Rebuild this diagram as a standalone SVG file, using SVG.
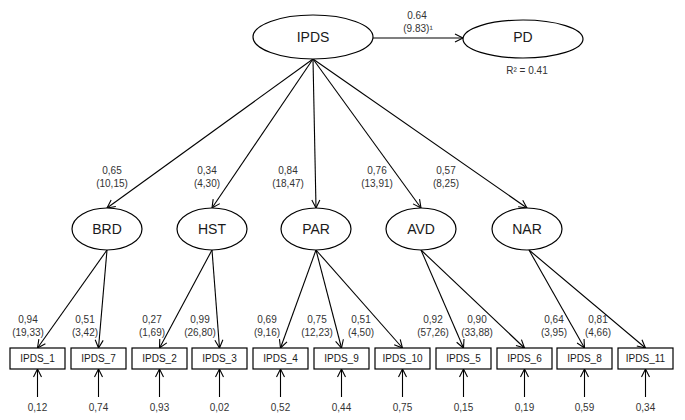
<svg xmlns="http://www.w3.org/2000/svg" width="685" height="420" viewBox="0 0 685 420">
<defs>
<marker id="arr" markerUnits="userSpaceOnUse" markerWidth="10" markerHeight="10" refX="8" refY="4" orient="auto" overflow="visible">
<path d="M0,0 L8,4 L0,8" fill="none" stroke="#000" stroke-width="1.1"/>
</marker>
<style>
.e{fill:#fff;stroke:#000;stroke-width:1.2}
.b{fill:#fff;stroke:#000;stroke-width:1.2}
.l{stroke:#000;stroke-width:1.1;fill:none;marker-end:url(#arr)}
.t{font-family:"Liberation Sans",Arial,sans-serif;fill:#1a1a1a;text-anchor:middle}
.big{font-size:14px}
.sm{font-size:10px;fill:#333}
.bx{font-size:10px}
</style>
</defs>
<rect width="685" height="420" fill="#fff"/>
<g id="connectors">
<line class="l" x1="373" y1="38" x2="463" y2="38"/>
<line class="l" x1="313" y1="59" x2="107" y2="208"/>
<line class="l" x1="313" y1="59" x2="212" y2="208"/>
<line class="l" x1="313" y1="59" x2="316" y2="208"/>
<line class="l" x1="313" y1="59" x2="421" y2="208"/>
<line class="l" x1="313" y1="59" x2="527" y2="208"/>
<line class="l" x1="107" y1="250" x2="37.5" y2="348"/>
<line class="l" x1="107" y1="250" x2="98.5" y2="348"/>
<line class="l" x1="212" y1="250" x2="159.5" y2="348"/>
<line class="l" x1="212" y1="250" x2="219.5" y2="348"/>
<line class="l" x1="316" y1="250" x2="280.5" y2="348"/>
<line class="l" x1="316" y1="250" x2="341.5" y2="348"/>
<line class="l" x1="316" y1="250" x2="402.5" y2="348"/>
<line class="l" x1="421" y1="250" x2="463.5" y2="348"/>
<line class="l" x1="421" y1="250" x2="524.5" y2="348"/>
<line class="l" x1="529" y1="250" x2="584.5" y2="348"/>
<line class="l" x1="529" y1="250" x2="645.5" y2="348"/>
<line class="l" x1="37.5" y1="397" x2="37.5" y2="369"/>
<line class="l" x1="98.5" y1="397" x2="98.5" y2="369"/>
<line class="l" x1="159.5" y1="397" x2="159.5" y2="369"/>
<line class="l" x1="219.5" y1="397" x2="219.5" y2="369"/>
<line class="l" x1="280.5" y1="397" x2="280.5" y2="369"/>
<line class="l" x1="341.5" y1="397" x2="341.5" y2="369"/>
<line class="l" x1="402.5" y1="397" x2="402.5" y2="369"/>
<line class="l" x1="463.5" y1="397" x2="463.5" y2="369"/>
<line class="l" x1="524.5" y1="397" x2="524.5" y2="369"/>
<line class="l" x1="584.5" y1="397" x2="584.5" y2="369"/>
<line class="l" x1="645.5" y1="397" x2="645.5" y2="369"/>
</g>
<g id="labels" class="t sm">
<text x="417" y="19">0.64</text>
<text x="418" y="32">(9.83)¹</text>
<text x="527" y="74">R² = 0.41</text>
<text x="112" y="174">0,65</text><text x="112" y="187">(10,15)</text>
<text x="207" y="174">0,34</text><text x="207" y="187">(4,30)</text>
<text x="288" y="174">0,84</text><text x="288" y="187">(18,47)</text>
<text x="377" y="174">0,76</text><text x="377" y="187">(13,91)</text>
<text x="446" y="174">0,57</text><text x="446" y="187">(8,25)</text>
<text x="28" y="323">0,94</text><text x="28" y="336">(19,33)</text>
<text x="85" y="323">0,51</text><text x="85" y="336">(3,42)</text>
<text x="152" y="323">0,27</text><text x="152" y="336">(1,69)</text>
<text x="200" y="323">0,99</text><text x="200" y="336">(26,80)</text>
<text x="267" y="323">0,69</text><text x="267" y="336">(9,16)</text>
<text x="317" y="323">0,75</text><text x="317" y="336">(12,23)</text>
<text x="361" y="323">0,51</text><text x="361" y="336">(4,50)</text>
<text x="433" y="323">0,92</text><text x="433" y="336">(57,26)</text>
<text x="477" y="323">0,90</text><text x="477" y="336">(33,88)</text>
<text x="554" y="323">0,64</text><text x="554" y="336">(3,95)</text>
<text x="598" y="323">0,81</text><text x="598" y="336">(4,66)</text>
<text x="37.5" y="411">0,12</text>
<text x="98.5" y="411">0,74</text>
<text x="159.5" y="411">0,93</text>
<text x="219.5" y="411">0,02</text>
<text x="280.5" y="411">0,52</text>
<text x="341.5" y="411">0,44</text>
<text x="402.5" y="411">0,75</text>
<text x="463.5" y="411">0,15</text>
<text x="524.5" y="411">0,19</text>
<text x="584.5" y="411">0,59</text>
<text x="645.5" y="411">0,34</text>
</g>
<g id="IPDS"><ellipse class="e" cx="313" cy="37" rx="60" ry="22"/><text class="t big" x="313" y="42">IPDS</text></g>
<g id="PD"><ellipse class="e" cx="523" cy="39" rx="60" ry="19"/><text class="t big" x="523" y="42">PD</text></g>
<g id="BRD"><ellipse class="e" cx="107" cy="229" rx="35" ry="21"/><text class="t big" x="107" y="234">BRD</text></g>
<g id="HST"><ellipse class="e" cx="212" cy="229" rx="35" ry="21"/><text class="t big" x="212" y="234">HST</text></g>
<g id="PAR"><ellipse class="e" cx="316" cy="229" rx="35" ry="21"/><text class="t big" x="316" y="234">PAR</text></g>
<g id="AVD"><ellipse class="e" cx="421" cy="229" rx="35" ry="21"/><text class="t big" x="421" y="234">AVD</text></g>
<g id="NAR"><ellipse class="e" cx="527" cy="229" rx="35" ry="21"/><text class="t big" x="527" y="234">NAR</text></g>
<g id="IPDS_1"><rect class="b" x="10" y="348" width="55" height="21"/><text class="t bx" x="37.5" y="362">IPDS_1</text></g>
<g id="IPDS_7"><rect class="b" x="71" y="348" width="55" height="21"/><text class="t bx" x="98.5" y="362">IPDS_7</text></g>
<g id="IPDS_2"><rect class="b" x="132" y="348" width="55" height="21"/><text class="t bx" x="159.5" y="362">IPDS_2</text></g>
<g id="IPDS_3"><rect class="b" x="192" y="348" width="55" height="21"/><text class="t bx" x="219.5" y="362">IPDS_3</text></g>
<g id="IPDS_4"><rect class="b" x="253" y="348" width="55" height="21"/><text class="t bx" x="280.5" y="362">IPDS_4</text></g>
<g id="IPDS_9"><rect class="b" x="314" y="348" width="55" height="21"/><text class="t bx" x="341.5" y="362">IPDS_9</text></g>
<g id="IPDS_10"><rect class="b" x="375" y="348" width="55" height="21"/><text class="t bx" x="402.5" y="362">IPDS_10</text></g>
<g id="IPDS_5"><rect class="b" x="436" y="348" width="55" height="21"/><text class="t bx" x="463.5" y="362">IPDS_5</text></g>
<g id="IPDS_6"><rect class="b" x="497" y="348" width="55" height="21"/><text class="t bx" x="524.5" y="362">IPDS_6</text></g>
<g id="IPDS_8"><rect class="b" x="557" y="348" width="55" height="21"/><text class="t bx" x="584.5" y="362">IPDS_8</text></g>
<g id="IPDS_11"><rect class="b" x="618" y="348" width="55" height="21"/><text class="t bx" x="645.5" y="362">IPDS_11</text></g>
</svg>
